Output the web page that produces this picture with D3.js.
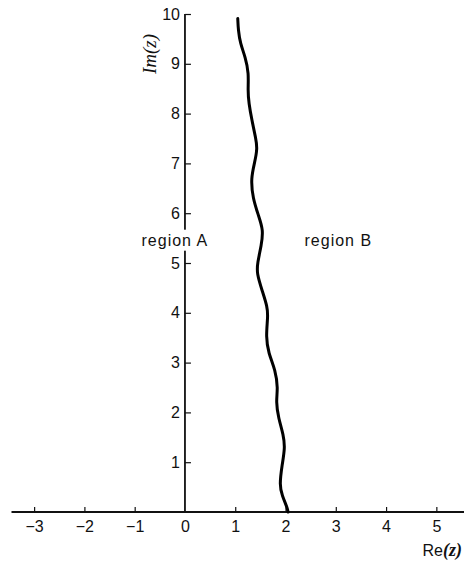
<!DOCTYPE html>
<html>
<head>
<meta charset="utf-8">
<script src="https://cdn.jsdelivr.net/npm/d3@7"></script>
<style>
  html, body { margin: 0; padding: 0; background: #fff; }
  svg text { font-family: "Liberation Sans", Arial, sans-serif; fill: #111; }
</style>
</head>
<body>
<div id="chart"></div>
<script>
// wavy boundary between region A and region B
const curveRe = [1.05, 1.06, 1.10, 1.20, 1.27, 1.25, 1.27, 1.33, 1.41, 1.44, 1.39, 1.31, 1.35,
  1.46, 1.56, 1.52, 1.44, 1.43, 1.53, 1.64, 1.65, 1.61, 1.66, 1.80, 1.85, 1.81, 1.86, 1.96,
  1.99, 1.93, 1.88, 1.93, 2.04, 2.05];
const curveIm = [9.91, 9.68, 9.41, 9.14, 8.81, 8.47, 8.21, 7.87, 7.50, 7.30, 7.03, 6.70, 6.30,
  5.96, 5.66, 5.36, 4.99, 4.79, 4.46, 4.12, 3.92, 3.52, 3.19, 2.85, 2.48, 2.22, 1.88, 1.55,
  1.28, 0.94, 0.54, 0.34, 0.07, 0.0];

const xTicks = [-3, -2, -1, 0, 1, 2, 3, 4, 5];
const yTicks = [1, 2, 3, 4, 5, 6, 7, 8, 9, 10];

const regionLabels = ["region A", "region B"];
const regionRe = [-0.2, 3.05];
const regionIm = [5.46, 5.46];

const W = 471, H = 561;

const svg = d3.select("#chart").append("svg")
  .attr("width", W)
  .attr("height", H);

const x = d3.scaleLinear().domain([-3.45, 5.55]).range([11.5, 464]);
const y = d3.scaleLinear().domain([0, 10]).range([512, 14]);

const fmt = d => d < 0 ? "\u2212" + Math.abs(d) : String(d);

// x axis along Im = 0, ticks pointing up
const gX = svg.append("g")
  .attr("transform", `translate(0,${y(0)})`)
  .call(d3.axisBottom(x).tickValues(xTicks).tickSize(-5).tickPadding(6).tickFormat(fmt));

gX.select(".domain").attr("d", `M${x.range()[0]},0H${x.range()[1]}`)
  .attr("stroke", "#111").attr("stroke-width", 1.8);
gX.selectAll(".tick line").attr("stroke", "#111").attr("stroke-width", 1.2)
  .filter(d => d === 0).remove();
gX.selectAll(".tick text")
  .attr("y", 9)
  .attr("dy", "0.71em")
  .style("font-size", "16px");

// y axis along Re = 0, ticks pointing right, labels on left
const gY = svg.append("g")
  .attr("transform", `translate(${x(0)},0)`)
  .call(d3.axisLeft(y).tickValues(yTicks).tickSize(-6).tickPadding(6).tickFormat(d3.format("d")));

gY.select(".domain").attr("d", `M0,${y(0)}V${y(10)}`)
  .attr("stroke", "#111").attr("stroke-width", 1.8);
gY.selectAll(".tick line").attr("stroke", "#111").attr("stroke-width", 1.2);
gY.selectAll(".tick text")
  .attr("x", -5)
  .style("font-size", "16px");

// boundary curve (smoothed through the traced points)
const line = d3.line()
  .x((d, i) => x(curveRe[i]))
  .y((d, i) => y(curveIm[i]))
  .curve(d3.curveBasis);

svg.append("path")
  .datum(curveRe)
  .attr("d", line)
  .attr("fill", "none")
  .attr("stroke", "#000")
  .attr("stroke-width", 3)
  .attr("stroke-linecap", "round");

// region labels (region A sits over the axis, with a white patch)
regionLabels.forEach((label, i) => {
  const t = svg.append("text")
    .attr("x", x(regionRe[i]))
    .attr("y", y(regionIm[i]))
    .attr("dy", "0.35em")
    .attr("text-anchor", "middle")
    .style("font-size", "16px")
    .style("letter-spacing", "1px")
    .text(label);
  const bb = t.node().getBBox();
  svg.insert("rect", () => t.node())
    .attr("x", bb.x - 2).attr("y", bb.y - 2)
    .attr("width", bb.width + 4).attr("height", bb.height + 4)
    .attr("fill", "#fff");
});

// axis titles
svg.append("text")
  .attr("transform", "translate(156,54) rotate(-90)")
  .attr("text-anchor", "middle")
  .style("font-family", "'Liberation Serif', serif")
  .style("font-style", "italic")
  .style("font-size", "19px")
  .text("Im(z)");

const reLabel = svg.append("text")
  .attr("x", 462)
  .attr("y", 556)
  .attr("text-anchor", "end")
  .style("font-size", "16px");
reLabel.append("tspan").text("Re");
reLabel.append("tspan")
  .style("font-family", "'Liberation Serif', serif")
  .style("font-style", "italic")
  .style("font-weight", "bold")
  .style("font-size", "18px")
  .text("(z)");
</script>
</body>
</html>
